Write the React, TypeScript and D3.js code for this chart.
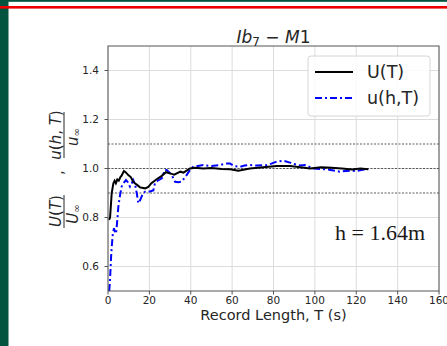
import React from 'react';
import * as d3 from 'd3';

// U(T) / U_inf  (black, solid)
const tU = [0.5, 1, 1.8, 2.6, 3.2, 3.8, 4.5, 5.2, 6, 6.5, 7.7, 8.5, 9.8, 11, 12.2, 13, 14.5, 15.5, 17.9, 19.5, 21, 23.5, 26, 28, 30.8, 32, 35, 36.5, 39.6, 42, 46, 50, 55, 59, 63, 68.6, 75, 81.5, 88, 93, 97.6, 103, 108, 113, 118, 122, 125.8];
const vU = [0.79, 0.8, 0.9, 0.94, 0.95, 0.94, 0.955, 0.95, 0.965, 0.97, 0.99, 0.985, 0.973, 0.965, 0.946, 0.94, 0.93, 0.923, 0.919, 0.925, 0.94, 0.956, 0.97, 0.985, 0.978, 0.975, 0.987, 0.983, 1.0, 1.003, 1.0, 1.002, 0.998, 0.997, 0.991, 1.0, 1.005, 1.01, 1.01, 1.005, 1.0, 1.005, 1.003, 1.0, 0.996, 1.0, 0.997];

// u(h,T) / u_inf  (blue, dash-dot)
const tu = [0.6, 1.0, 1.5, 1.8, 2.3, 2.9, 3.4, 3.9, 4.5, 5.0, 5.8, 6.6, 7.5, 8.7, 9.5, 10.6, 11.5, 12.2, 13.2, 13.9, 14.7, 15.5, 17, 17.9, 19.5, 21.9, 22.7, 24, 26, 27.5, 28.4, 29.5, 30.8, 32.4, 34, 35.6, 38, 39.6, 41.2, 46, 50, 54, 57.4, 59, 61, 63.8, 66, 68.6, 72, 76.7, 79, 81.5, 84.7, 88, 90, 92.8, 95.2, 99.2, 103, 107, 112, 115, 117, 120, 123, 125.8];
const vu = [0.5, 0.55, 0.64, 0.68, 0.73, 0.756, 0.74, 0.735, 0.79, 0.844, 0.89, 0.926, 0.94, 0.953, 0.945, 0.926, 0.94, 0.953, 0.93, 0.899, 0.858, 0.87, 0.9, 0.905, 0.905, 0.91, 0.94, 0.95, 0.96, 0.994, 0.994, 0.985, 0.973, 0.946, 0.944, 0.946, 0.973, 0.994, 1.007, 1.014, 1.01, 1.014, 1.02, 1.02, 1.01, 1.007, 1.012, 1.014, 1.012, 1.014, 1.02, 1.028, 1.032, 1.024, 1.018, 1.012, 1.014, 1.0, 0.998, 0.995, 0.987, 0.99, 0.991, 0.99, 0.995, 0.997];

const xTicks = [0, 20, 40, 60, 80, 100, 120, 140, 160];
const yTicks = [0.6, 0.8, 1.0, 1.2, 1.4];
const refLines = [0.9, 1.0, 1.1];

const W = 447;
const H = 346;
const left = 108, right = 439, top = 46, bottom = 291;

export default function App() {
  const x = d3.scaleLinear().domain([0, 160]).range([left, right]);
  const y = d3.scaleLinear().domain([0.5, 1.5]).range([bottom, top]);

  const line = d3.line<[number, number]>().x(d => x(d[0])).y(d => y(d[1]));
  const dU = line(tU.map((t, i) => [t, vU[i]]));
  const du = line(tu.map((t, i) => [t, vu[i]]));

  const font = 'DejaVu Sans, sans-serif';
  const ink = '#262626';

  return (
    <svg width={W} height={H} style={{ position: 'absolute', left: 0, top: 0, background: '#fff' }}>
      {/* page decoration */}
      <rect x={0} y={0} width={W} height={1.8} fill="#02543f" />
      <rect x={0} y={0} width={8.5} height={H} fill="#02543f" />
      <rect x={0} y={6} width={W} height={2.6} fill="#ee0000" />

      <defs>
        <clipPath id="plot">
          <rect x={left} y={top} width={right - left} height={bottom - top} />
        </clipPath>
      </defs>

      {/* grid */}
      {xTicks.map(t => (
        <line key={'gx' + t} x1={x(t)} x2={x(t)} y1={top} y2={bottom} stroke="#dcdcdc" strokeWidth={1} />
      ))}
      {yTicks.map(t => (
        <line key={'gy' + t} x1={left} x2={right} y1={y(t)} y2={y(t)} stroke="#dcdcdc" strokeWidth={1} />
      ))}
      {refLines.map(v => (
        <line key={'r' + v} x1={left} x2={right} y1={y(v)} y2={y(v)} stroke="#333" strokeWidth={0.8} strokeDasharray="2,1.5" />
      ))}

      <g clipPath="url(#plot)">
        <path d={du ?? ''} fill="none" stroke="#0000ff" strokeWidth={2} strokeDasharray="7,3,2,3" />
        <path d={dU ?? ''} fill="none" stroke="#000" strokeWidth={2} />
      </g>

      {/* frame */}
      <rect x={left} y={top} width={right - left} height={bottom - top} fill="none" stroke="#555" strokeWidth={1} />

      {/* x axis */}
      {xTicks.map(t => (
        <g key={'xt' + t}>
          <line x1={x(t)} x2={x(t)} y1={bottom} y2={bottom + 3.5} stroke="#555" />
          <text x={x(t)} y={304} textAnchor="middle" fontFamily={font} fontSize={10.5} fill={ink}>{t}</text>
        </g>
      ))}
      <text x={(left + right) / 2} y={320} textAnchor="middle" fontFamily={font} fontSize={14.5} fill={ink}>Record Length, T (s)</text>

      {/* y axis */}
      {yTicks.map(t => (
        <g key={'yt' + t}>
          <line x1={left - 3.5} x2={left} y1={y(t)} y2={y(t)} stroke="#555" />
          <text x={99} y={y(t) + 3.8} textAnchor="end" fontFamily={font} fontSize={10.5} fill={ink}>{t.toFixed(1)}</text>
        </g>
      ))}

      {/* y label: U(T)/U∞ , u(h,T)/u∞ */}
      <g transform="translate(64,170) rotate(-90)" fontFamily={font} fontSize={15} fill={ink} fontStyle="italic">
        <text x={-41} y={-3.5} textAnchor="middle">U<tspan fontStyle="normal">(</tspan>T<tspan fontStyle="normal">)</tspan></text>
        <line x1={-58} x2={-25} y1={0} y2={0} stroke={ink} strokeWidth={1} />
        <text x={-44} y={13.5} textAnchor="middle">U<tspan fontStyle="normal" fontSize={10} dy={2}>∞</tspan></text>
        <text x={-5} y={-1} fontStyle="normal">,</text>
        <text x={35} y={-3.5} textAnchor="middle">u<tspan fontStyle="normal">(</tspan>h<tspan fontStyle="normal">, </tspan>T<tspan fontStyle="normal">)</tspan></text>
        <line x1={12} x2={58} y1={0} y2={0} stroke={ink} strokeWidth={1} />
        <text x={33} y={13.5} textAnchor="middle">u<tspan fontStyle="normal" fontSize={10} dy={2}>∞</tspan></text>
      </g>

      {/* title */}
      <text x={(left + right) / 2} y={42.5} textAnchor="middle" fontFamily={font} fontSize={17} fill={ink} fontStyle="italic">
        Ib<tspan fontSize={12} dy={3} fontStyle="normal">7</tspan><tspan dy={-3} fontStyle="normal"> − </tspan>M<tspan fontStyle="normal">1</tspan>
      </text>

      {/* legend */}
      <rect x={308} y={56} width={122} height={60} rx={3} fill="#fff" fillOpacity={0.85} stroke="#d6d6d6" strokeWidth={1} />
      <line x1={315} x2={353} y1={72} y2={72} stroke="#000" strokeWidth={2} />
      <text x={367} y={78} fontFamily={font} fontSize={17.5} fill={ink}>U(T)</text>
      <line x1={315} x2={353} y1={98} y2={98} stroke="#0000ff" strokeWidth={2} strokeDasharray="7,3,2,3" />
      <text x={367} y={104} fontFamily={font} fontSize={17.5} fill={ink}>u(h,T)</text>

      {/* annotation */}
      <text x={335} y={240} fontFamily="Liberation Serif, Times New Roman, serif" fontSize={22} fill="#1a1a1a">h = 1.64m</text>
    </svg>
  );
}
